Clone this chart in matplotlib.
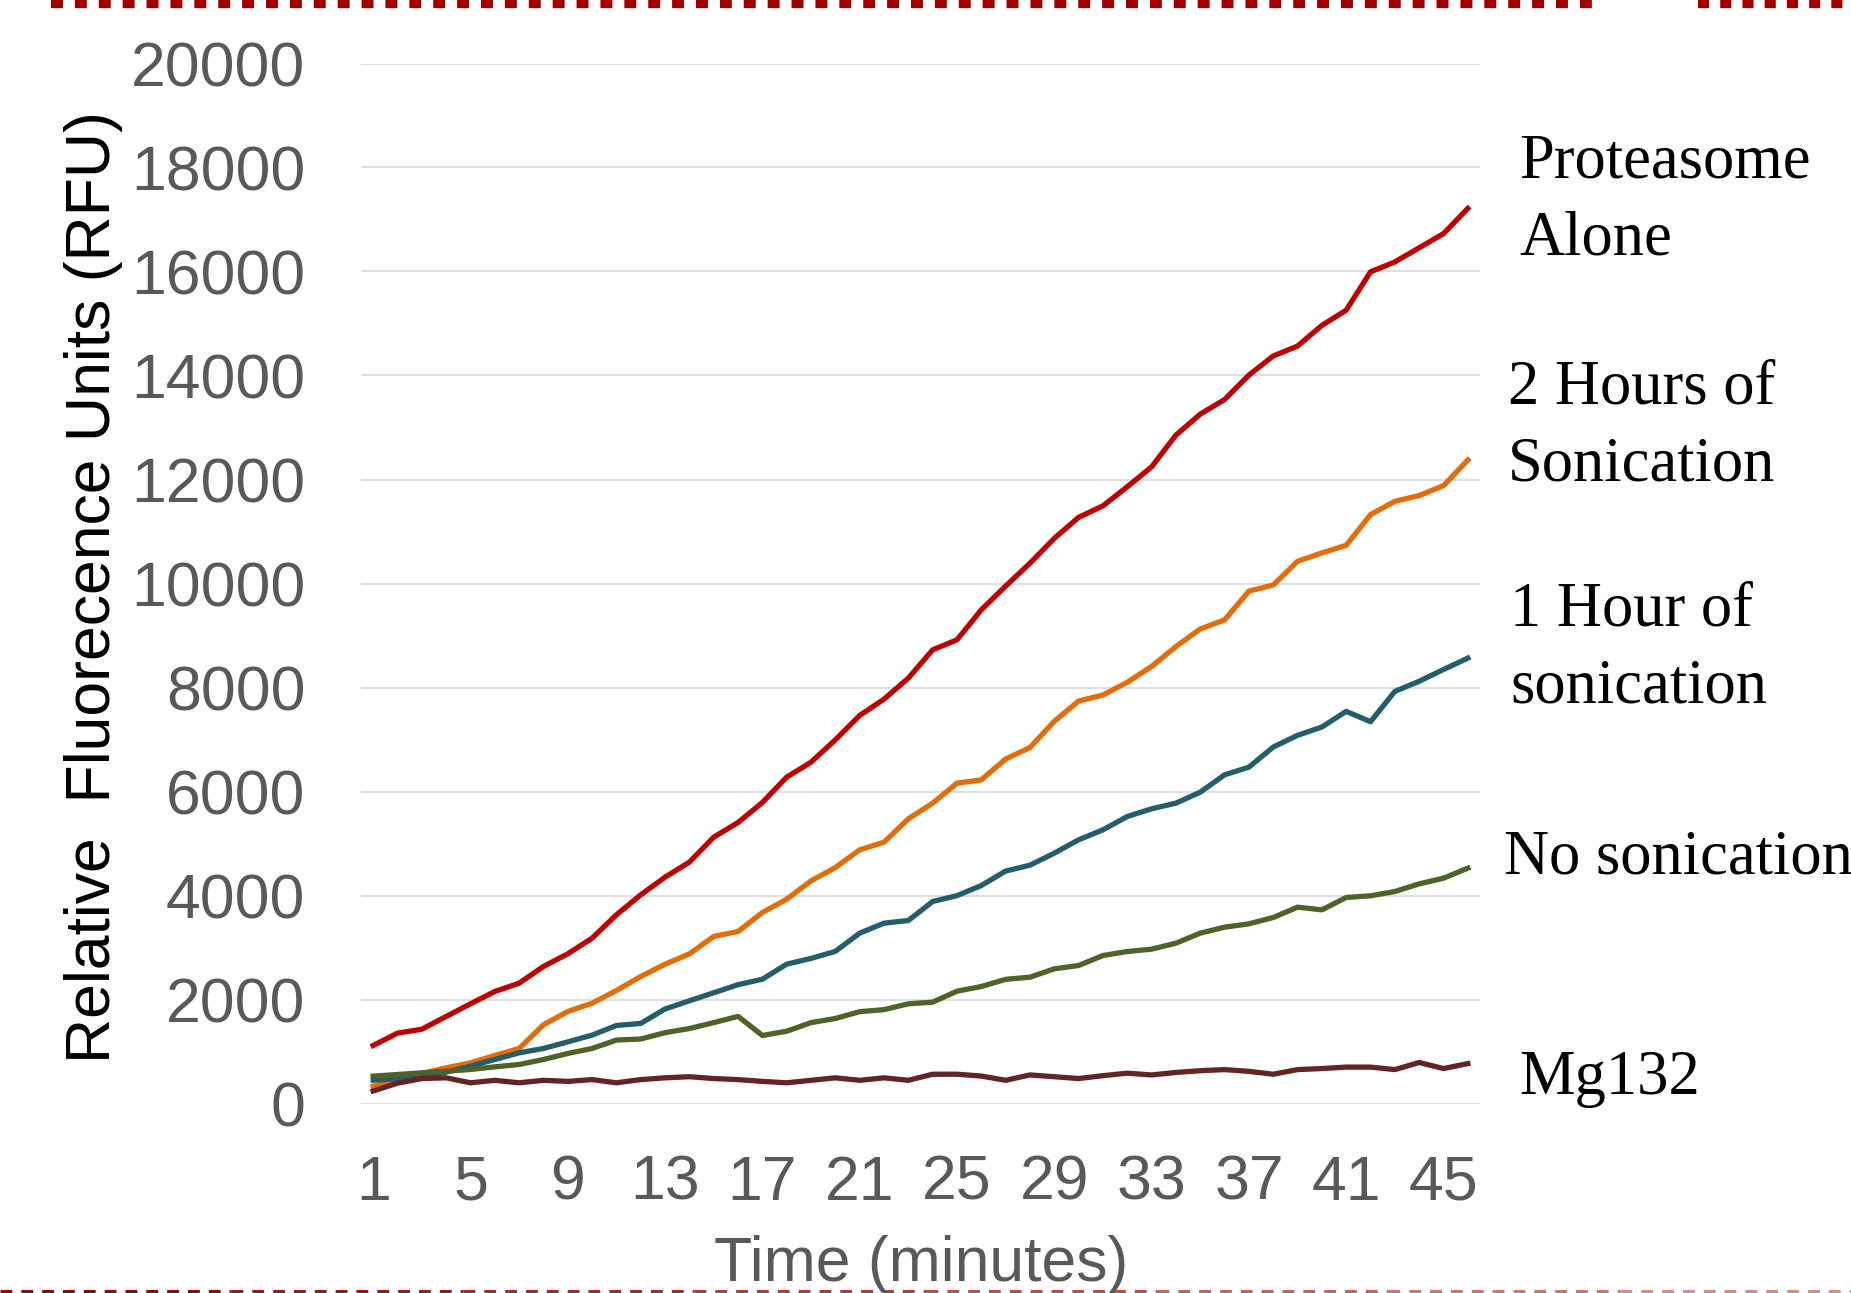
import numpy as np
import matplotlib
matplotlib.use('Agg')
from matplotlib import pyplot as plt
from matplotlib.lines import Line2D

# time points (minutes)
minutes = np.arange(1, 47)

# fluorescence readings (RFU)
proteasome_alone = [1115, 1353, 1429, 1673, 1917, 2154, 2314, 2635, 2878, 3179,
                    3628, 4013, 4353, 4641, 5122, 5404, 5788, 6276, 6564, 6994,
                    7462, 7776, 8180, 8724, 8917, 9494, 9950, 10390, 10868, 11272,
                    11493, 11860, 12243, 12853, 13257, 13537, 14007, 14375, 14566, 14963,
                    15257, 15993, 16184, 16456, 16728, 17213]
two_hours = [333, 449, 577, 686, 782, 923, 1058, 1513, 1769, 1929,
             2173, 2442, 2679, 2878, 3212, 3308, 3673, 3929, 4282, 4538,
             4878, 5026, 5474, 5776, 6160, 6224, 6625, 6845, 7350, 7740,
             7855, 8100, 8404, 8787, 9125, 9301, 9853, 9971, 10426, 10588,
             10735, 11324, 11581, 11691, 11882, 12375]
one_hour = [449, 474, 526, 603, 718, 846, 974, 1058, 1185, 1315,
            1500, 1540, 1818, 1975, 2130, 2285, 2390, 2680, 2790, 2926,
            3276, 3468, 3519, 3885, 3997, 4192, 4470, 4583, 4814, 5071,
            5263, 5519, 5667, 5776, 5987, 6321, 6468, 6855, 7080, 7240,
            7541, 7342, 7925, 8120, 8346, 8565]
no_sonication = [526, 558, 590, 622, 654, 705, 750, 846, 962, 1058,
                 1220, 1240, 1362, 1442, 1555, 1676, 1308, 1390, 1555, 1635,
                 1766, 1805, 1917, 1949, 2160, 2250, 2388, 2429, 2590, 2654,
                 2846, 2923, 2968, 3083, 3276, 3391, 3455, 3577, 3776, 3724,
                 3962, 3994, 4077, 4224, 4333, 4526]
mg132 = [240, 391, 480, 494, 398, 446, 398, 446, 425, 460,
         398, 460, 494, 515, 480, 460, 425, 398, 446, 494,
         446, 494, 446, 563, 563, 528, 446, 549, 515, 480,
         535, 583, 549, 597, 631, 652, 618, 563, 652, 672,
         700, 700, 652, 789, 672, 768]

x_ticks = [1, 5, 9, 13, 17, 21, 25, 29, 33, 37, 41, 45]
y_ticks = np.arange(0, 20001, 2000)

plt.rcParams['font.family'] = ['Liberation Sans', 'DejaVu Sans']
plt.rcParams['lines.scale_dashes'] = False

fig = plt.figure(figsize=(18.51, 12.93), dpi=100)
ax = fig.add_axes([361 / 1851, 1 - 1103.5 / 1293, 1119 / 1851, 1040 / 1293])

ax.plot(minutes, proteasome_alone, color='#C00000', lw=3.8)
ax.plot(minutes, two_hours, color='#E46C0A', lw=3.8)
ax.plot(minutes, one_hour, color='#235E6C', lw=3.8)
ax.plot(minutes, no_sonication, color='#4F6228', lw=3.8)
ax.plot(minutes, mg132, color='#632523', lw=3.8)

ax.set_xlim(0.5, 46.5)
ax.set_ylim(0, 20000)
ax.set_xticks(x_ticks)
ax.set_yticks(y_ticks)
ax.grid(axis='y', color='#D9D9D9', lw=1.2)
ax.set_axisbelow(True)
for s in ax.spines.values():
  s.set_visible(False)
ax.tick_params(length=0, labelsize=45, labelcolor='#595959')
ax.tick_params(axis='y', pad=40)
ax.tick_params(axis='x', pad=36)

fig.text(94 / 1851, 1 - 587 / 1293, 'Relative  Fluorecence Units (RFU)', rotation=90,
         ha='center', va='center', fontsize=45, color='black')
fig.text(921 / 1851, 1 - 1264 / 1293, 'Time (minutes)', ha='center', va='center',
         fontsize=45, color='#595959')

# series labels on the right
serif = 'Liberation Serif'
fig.text(1519 / 1851, 1 - 201 / 1293, 'Proteasome\nAlone', family=serif, fontsize=45,
         ha='left', va='center', linespacing=1.42)
fig.text(1508 / 1851, 1 - 427 / 1293, '2 Hours of\nSonication', family=serif, fontsize=45,
         ha='left', va='center', linespacing=1.42)
fig.text(1510 / 1851, 1 - 649 / 1293, '1 Hour of\nsonication', family=serif, fontsize=45,
         ha='left', va='center', linespacing=1.42)
fig.text(1504 / 1851, 1 - 858 / 1293, 'No sonication', family=serif, fontsize=45,
         ha='left', va='center')
fig.text(1519 / 1851, 1 - 1079 / 1293, 'Mg132', family=serif, fontsize=45,
         ha='left', va='center')

# dashed slide borders
top = Line2D([51 / 1851, 1600 / 1851], [1 - 4 / 1293] * 2, transform=fig.transFigure,
             color='#A00000', lw=6, linestyle=(0, (8.6, 8.6)))
top.set_dash_capstyle('butt')
fig.add_artist(top)
top2 = Line2D([1698 / 1851, 1.0], [1 - 4 / 1293] * 2, transform=fig.transFigure,
              color='#A00000', lw=6, linestyle=(0, (8, 8)))
top2.set_dash_capstyle('butt')
fig.add_artist(top2)
cols = ['#A00000', '#AA1010', '#B42222', '#BE3535', '#C84848', '#D05C5C', '#D87070', '#E08888']
edges = np.linspace(0, 1, len(cols) + 1)
for i, c in enumerate(cols):
  ln = Line2D([edges[i], edges[i + 1]], [1 - 1291 / 1293] * 2, transform=fig.transFigure,
              color=c, lw=2.2, linestyle=(0, (8.5, 6.5)))
  ln.set_dash_capstyle('butt')
  fig.add_artist(ln)

plt.savefig('out.png', dpi=100)
